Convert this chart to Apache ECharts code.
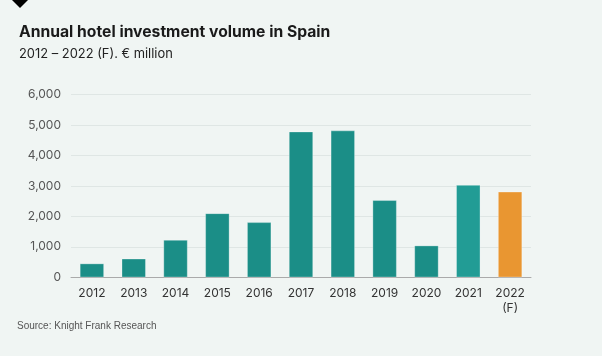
<!DOCTYPE html>
<html><head><meta charset="utf-8">
<script src="https://cdn.jsdelivr.net/npm/echarts@6/dist/echarts.min.js"></script>
<style>html,body{margin:0;padding:0;background:#f0f5f3}#c{width:602px;height:356px}</style>
</head><body><div id="c"></div>
<script>
const categories = ['2012','2013','2014','2015','2016','2017','2018','2019','2020','2021','2022\n(F)'];
const values = [450, 610, 1225, 2100, 1805, 4785, 4820, 2530, 1040, 3030, 2810];
const barColors = ['#1b8e87','#1b8e87','#1b8e87','#1b8e87','#1b8e87','#1b8e87','#1b8e87','#1b8e87','#1b8e87','#229c95','#e99631'];
const yTicks = [0,1000,2000,3000,4000,5000,6000];

const chart = echarts.init(document.getElementById('c'), null, {renderer:'canvas'});
chart.setOption({
  backgroundColor:'#f0f5f3',
  animation:false,
  title:[
    {text:'Annual hotel investment volume in Spain', left:19, top:24, padding:0,
     textStyle:{fontFamily:'Inter', fontWeight:'bold', fontSize:15.7, color:'#1a1a1a'}},
    {text:'2012 – 2022 (F). € million', left:19, top:48, padding:0,
     textStyle:{fontFamily:'Inter', fontWeight:'normal', fontSize:12.9, color:'#222'}},
    {text:'Source: Knight Frank Research', left:17, top:321, padding:0,
     textStyle:{fontFamily:'Liberation Sans', fontWeight:'normal', fontSize:10, color:'#555'}}
  ],
  graphic:[{type:'polygon', shape:{points:[[12,0],[28,0],[20,8]]}, style:{fill:'#000'}}],
  grid:{left:71, right:71, top:94.7, bottom:78.7},
  xAxis:{type:'category', data:categories,
    axisLine:{lineStyle:{color:'#aaaaaa', width:1}}, axisTick:{show:false},
    axisLabel:{fontFamily:'Inter', fontSize:12, color:'#333', margin:9, lineHeight:15, interval:0}},
  yAxis:{type:'value', min:yTicks[0], max:yTicks[yTicks.length-1], interval:1000,
    axisLine:{show:false}, axisTick:{show:false},
    splitLine:{lineStyle:{color:'#dfe6e4', width:1}},
    axisLabel:{fontFamily:'Inter', fontSize:12, color:'#555', margin:10,
      formatter:v=>v.toLocaleString('en-US')}},
  series:[{type:'bar', barWidth:24,
    data:values.map((v,i)=>({value:v, itemStyle:{color:barColors[i], borderColor:'rgba(255,255,255,0.6)', borderWidth:0.5}}))}]
});
</script></body></html>
